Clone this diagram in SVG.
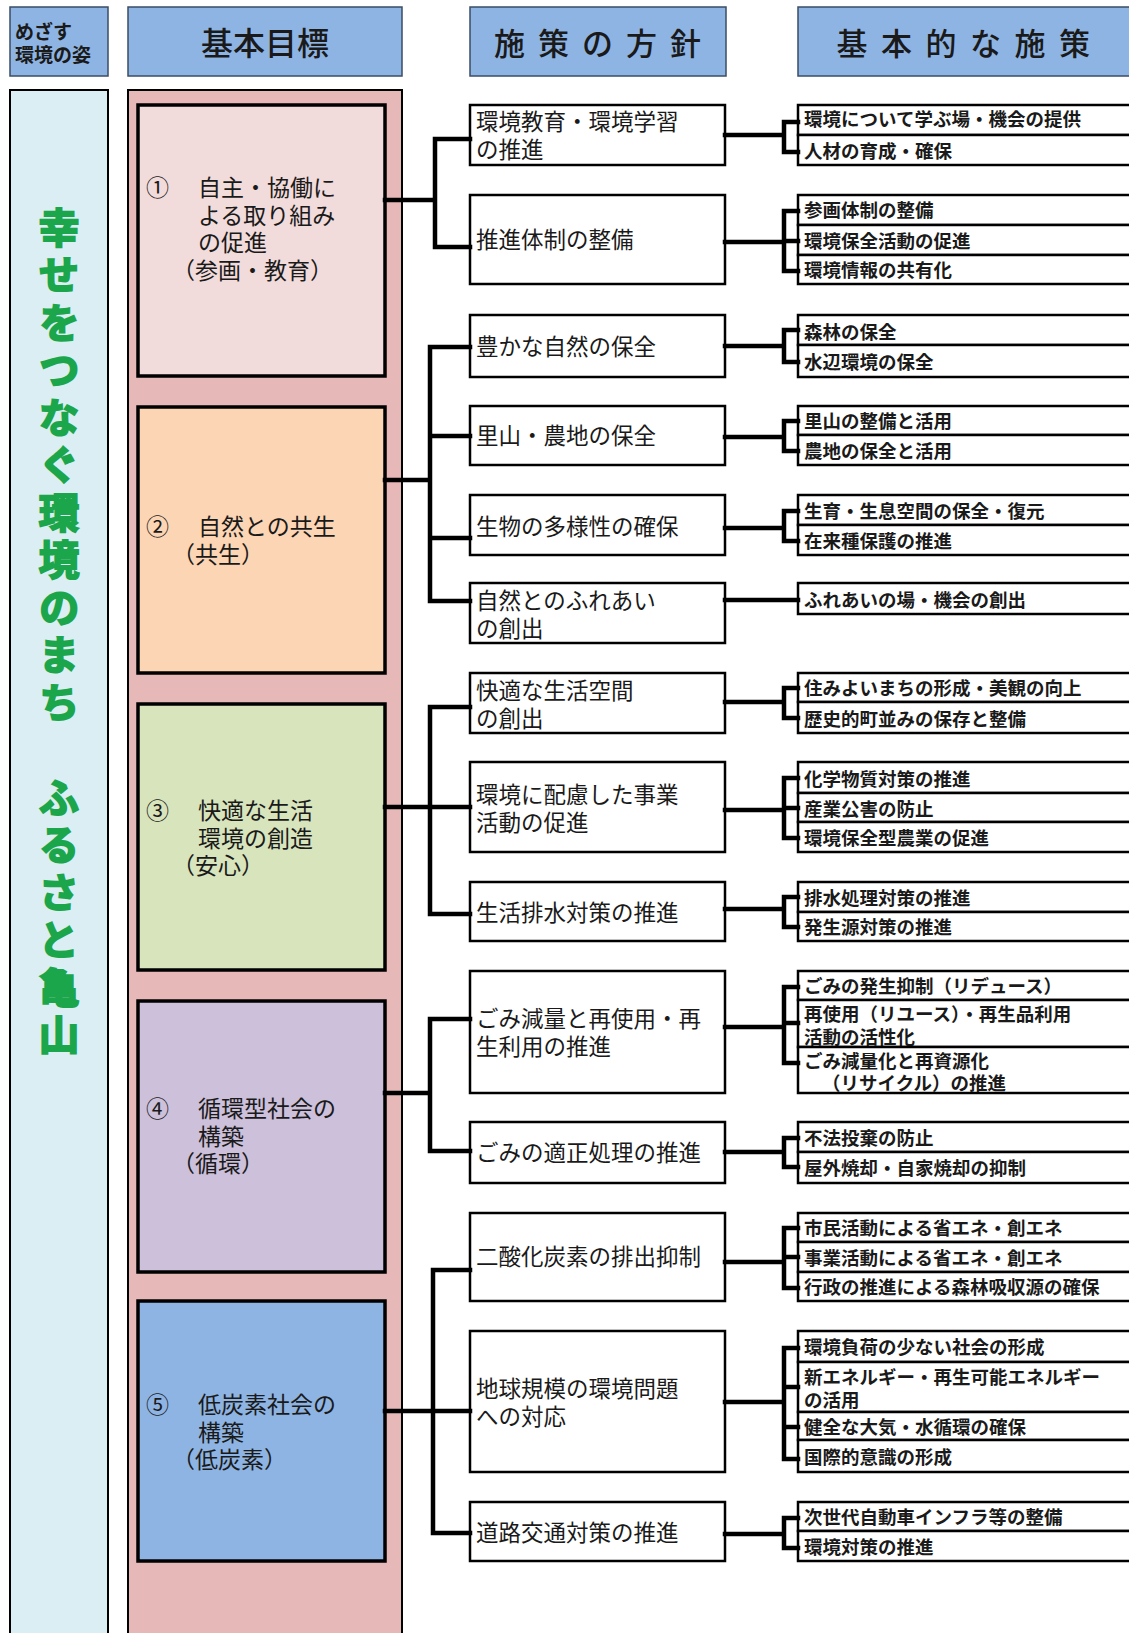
<svg xmlns="http://www.w3.org/2000/svg" width="1129" height="1633" viewBox="0 0 1129 1633">
<style>
text{font-family:"Noto Sans CJK JP","Noto Sans CJK SC",sans-serif;fill:#1a1a1a;dominant-baseline:central}
.hdr{fill:#8EB4E3;stroke:#3A4C66;stroke-width:1.5}
.ht{font-size:31px;text-anchor:middle;font-weight:500}
.goal{stroke:#000;stroke-width:3.5}
.gt{font-size:23px}
.pol{fill:#fff;stroke:#000;stroke-width:2.5}
.pt{font-size:22.5px}
.item{fill:#fff;stroke:#000;stroke-width:2.5}
.it{font-size:18.5px;font-weight:bold}
.title{font-size:41px;font-weight:bold;fill:#1CA64B;stroke:#1CA64B;stroke-width:1.8;writing-mode:vertical-rl;letter-spacing:6.5px}
.con{fill:none;stroke:#000;stroke-width:4.5;stroke-linecap:square;stroke-linejoin:miter}
</style>
<rect width="1129" height="1633" fill="#fff"/>

<g id="headers">
<g id="h-mezasu"><rect class="hdr" x="10" y="7" width="98" height="69"/><text style="font-size:19px;font-weight:bold"><tspan x="15" y="30">めざす</tspan><tspan x="15" y="53">環境の姿</tspan></text></g>
<g id="h-kihon"><rect class="hdr" x="128" y="7" width="274" height="69"/><text class="ht" x="265" y="41" style="font-size:32px">基本目標</text></g>
<g id="h-housin"><rect class="hdr" x="470" y="7" width="256" height="69"/><text class="ht" x="604" y="41" style="letter-spacing:13px">施策の方針</text></g>
<g id="h-sesaku"><rect class="hdr" x="798" y="7" width="340" height="69"/><text class="ht" x="970" y="41" style="letter-spacing:13.5px">基本的な施策</text></g>
</g>

<g id="vision">
<rect x="10" y="90" width="98" height="1560" fill="#DBEEF4" stroke="#000" stroke-width="2"/>
<text class="title" x="59" y="206.5">幸せをつなぐ環境のまち　ふるさと亀山</text>
</g>

<g id="goals">
<rect x="128" y="90" width="274" height="1560" fill="#E6B8B7" stroke="#000" stroke-width="2"/>
<g id="goal1"><rect class="goal" x="138" y="105" width="247" height="271" fill="#F2DCDB"/>
<text class="gt"><tspan x="146" y="186">①</tspan><tspan x="198" y="186">自主・協働に</tspan><tspan x="198" y="213.5">よる取り組み</tspan><tspan x="198" y="241">の促進</tspan><tspan x="172" y="268.5">（参画・教育）</tspan></text></g>
<g id="goal2"><rect class="goal" x="138" y="407" width="247" height="266" fill="#FCD5B4"/>
<text class="gt"><tspan x="146" y="525">②</tspan><tspan x="198" y="525">自然との共生</tspan><tspan x="172" y="553">（共生）</tspan></text></g>
<g id="goal3"><rect class="goal" x="138" y="704" width="247" height="266" fill="#D7E4BC"/>
<text class="gt"><tspan x="146" y="809">③</tspan><tspan x="198" y="809">快適な生活</tspan><tspan x="198" y="836.5">環境の創造</tspan><tspan x="172" y="864">（安心）</tspan></text></g>
<g id="goal4"><rect class="goal" x="138" y="1001" width="247" height="271" fill="#CCC0DA"/>
<text class="gt"><tspan x="146" y="1107">④</tspan><tspan x="198" y="1107">循環型社会の</tspan><tspan x="198" y="1134.5">構築</tspan><tspan x="172" y="1162">（循環）</tspan></text></g>
<g id="goal5"><rect class="goal" x="138" y="1301" width="247" height="260" fill="#8EB4E3"/>
<text class="gt"><tspan x="146" y="1403">⑤</tspan><tspan x="198" y="1403">低炭素社会の</tspan><tspan x="198" y="1430.5">構築</tspan><tspan x="172" y="1458">（低炭素）</tspan></text></g>
</g>

<g id="policies">
<g id="p1"><rect class="pol" x="470" y="105" width="255" height="60"/><text class="pt"><tspan x="476" y="120">環境教育・環境学習</tspan><tspan x="476" y="147.5">の推進</tspan></text></g>
<g id="p2"><rect class="pol" x="470" y="195" width="255" height="89"/><text class="pt" x="476" y="238">推進体制の整備</text></g>
<g id="p3"><rect class="pol" x="470" y="315" width="255" height="62"/><text class="pt" x="476" y="345">豊かな自然の保全</text></g>
<g id="p4"><rect class="pol" x="470" y="406" width="255" height="59"/><text class="pt" x="476" y="434">里山・農地の保全</text></g>
<g id="p5"><rect class="pol" x="470" y="495" width="255" height="60"/><text class="pt" x="476" y="525">生物の多様性の確保</text></g>
<g id="p6"><rect class="pol" x="470" y="583" width="255" height="60"/><text class="pt"><tspan x="476" y="599">自然とのふれあい</tspan><tspan x="476" y="626.5">の創出</tspan></text></g>
<g id="p7"><rect class="pol" x="470" y="673" width="255" height="60"/><text class="pt"><tspan x="476" y="689">快適な生活空間</tspan><tspan x="476" y="716.5">の創出</tspan></text></g>
<g id="p8"><rect class="pol" x="470" y="762" width="255" height="90"/><text class="pt"><tspan x="476" y="793">環境に配慮した事業</tspan><tspan x="476" y="820.5">活動の促進</tspan></text></g>
<g id="p9"><rect class="pol" x="470" y="882" width="255" height="59"/><text class="pt" x="476" y="911">生活排水対策の推進</text></g>
<g id="p10"><rect class="pol" x="470" y="971" width="255" height="122"/><text class="pt"><tspan x="476" y="1017">ごみ減量と再使用・再</tspan><tspan x="476" y="1044.5">生利用の推進</tspan></text></g>
<g id="p11"><rect class="pol" x="470" y="1122" width="255" height="61"/><text class="pt" x="476" y="1151">ごみの適正処理の推進</text></g>
<g id="p12"><rect class="pol" x="470" y="1213" width="255" height="88"/><text class="pt" x="476" y="1255">二酸化炭素の排出抑制</text></g>
<g id="p13"><rect class="pol" x="470" y="1331" width="255" height="141"/><text class="pt"><tspan x="476" y="1387">地球規模の環境問題</tspan><tspan x="476" y="1414.5">への対応</tspan></text></g>
<g id="p14"><rect class="pol" x="470" y="1502" width="255" height="59"/><text class="pt" x="476" y="1531">道路交通対策の推進</text></g>
</g>

<g id="measures">
<g id="m1"><rect class="item" x="798" y="105" width="340" height="30"/><text class="it" x="804" y="118">環境について学ぶ場・機会の提供</text><rect class="item" x="798" y="135" width="340" height="30"/><text class="it" x="804" y="150">人材の育成・確保</text></g>
<g id="m2"><rect class="item" x="798" y="195" width="340" height="30"/><text class="it" x="804" y="209">参画体制の整備</text><rect class="item" x="798" y="225" width="340" height="30"/><text class="it" x="804" y="240">環境保全活動の促進</text><rect class="item" x="798" y="255" width="340" height="29"/><text class="it" x="804" y="269">環境情報の共有化</text></g>
<g id="m3"><rect class="item" x="798" y="315" width="340" height="30"/><text class="it" x="804" y="331">森林の保全</text><rect class="item" x="798" y="345" width="340" height="32"/><text class="it" x="804" y="361">水辺環境の保全</text></g>
<g id="m4"><rect class="item" x="798" y="406" width="340" height="29"/><text class="it" x="804" y="420">里山の整備と活用</text><rect class="item" x="798" y="435" width="340" height="30"/><text class="it" x="804" y="450">農地の保全と活用</text></g>
<g id="m5"><rect class="item" x="798" y="495" width="340" height="30"/><text class="it" x="804" y="510">生育・生息空間の保全・復元</text><rect class="item" x="798" y="525" width="340" height="30"/><text class="it" x="804" y="540">在来種保護の推進</text></g>
<g id="m6"><rect class="item" x="798" y="583" width="340" height="31"/><text class="it" x="804" y="599">ふれあいの場・機会の創出</text></g>
<g id="m7"><rect class="item" x="798" y="673" width="340" height="29"/><text class="it" x="804" y="687">住みよいまちの形成・美観の向上</text><rect class="item" x="798" y="702" width="340" height="31"/><text class="it" x="804" y="718">歴史的町並みの保存と整備</text></g>
<g id="m8"><rect class="item" x="798" y="762" width="340" height="31"/><text class="it" x="804" y="778">化学物質対策の推進</text><rect class="item" x="798" y="793" width="340" height="29"/><text class="it" x="804" y="808">産業公害の防止</text><rect class="item" x="798" y="822" width="340" height="30"/><text class="it" x="804" y="837">環境保全型農業の促進</text></g>
<g id="m9"><rect class="item" x="798" y="882" width="340" height="30"/><text class="it" x="804" y="897">排水処理対策の推進</text><rect class="item" x="798" y="912" width="340" height="29"/><text class="it" x="804" y="926">発生源対策の推進</text></g>
<g id="m10"><rect class="item" x="798" y="971" width="340" height="29"/><text class="it" x="804" y="985">ごみの発生抑制（リデュース）</text><rect class="item" x="798" y="1000" width="340" height="47"/><text class="it"><tspan x="804" y="1013">再使用（リユース）・再生品利用</tspan><tspan x="804" y="1036">活動の活性化</tspan></text><rect class="item" x="798" y="1047" width="340" height="46"/><text class="it"><tspan x="804" y="1060">ごみ減量化と再資源化</tspan><tspan x="822" y="1082">（リサイクル）の推進</tspan></text></g>
<g id="m11"><rect class="item" x="798" y="1122" width="340" height="30"/><text class="it" x="804" y="1137">不法投棄の防止</text><rect class="item" x="798" y="1152" width="340" height="31"/><text class="it" x="804" y="1167">屋外焼却・自家焼却の抑制</text></g>
<g id="m12"><rect class="item" x="798" y="1213" width="340" height="29"/><text class="it" x="804" y="1227">市民活動による省エネ・創エネ</text><rect class="item" x="798" y="1242" width="340" height="30"/><text class="it" x="804" y="1257">事業活動による省エネ・創エネ</text><rect class="item" x="798" y="1272" width="340" height="29"/><text class="it" x="804" y="1286">行政の推進による森林吸収源の確保</text></g>
<g id="m13"><rect class="item" x="798" y="1331" width="340" height="31"/><text class="it" x="804" y="1346">環境負荷の少ない社会の形成</text><rect class="item" x="798" y="1362" width="340" height="50"/><text class="it"><tspan x="804" y="1376">新エネルギー・再生可能エネルギー</tspan><tspan x="804" y="1399">の活用</tspan></text><rect class="item" x="798" y="1412" width="340" height="28"/><text class="it" x="804" y="1426">健全な大気・水循環の確保</text><rect class="item" x="798" y="1440" width="340" height="32"/><text class="it" x="804" y="1456">国際的意識の形成</text></g>
<g id="m14"><rect class="item" x="798" y="1502" width="340" height="29"/><text class="it" x="804" y="1516">次世代自動車インフラ等の整備</text><rect class="item" x="798" y="1531" width="340" height="30"/><text class="it" x="804" y="1546">環境対策の推進</text></g>
</g>

<g id="connectors">
<path class="con" d="M385 200H435M435 139V247M435 139H470M435 247H470"/>
<path class="con" d="M385 480H430M430 347V601M430 347H470M430 436H470M430 538H470M430 601H470"/>
<path class="con" d="M385 807H470M430 707V914M430 707H470M430 914H470"/>
<path class="con" d="M385 1093H430M430 1019V1151M430 1019H470M430 1151H470"/>
<path class="con" d="M385 1411H470M433 1270V1533M433 1270H470M433 1533H470"/>
<path class="con" d="M725 135H784M784 122V152M784 122H798M784 152H798"/>
<path class="con" d="M725 242H784M784 211V271M784 211H798M784 241H798M784 271H798"/>
<path class="con" d="M725 346H784M784 330V362M784 330H798M784 362H798"/>
<path class="con" d="M725 437H784M784 421V451M784 421H798M784 451H798"/>
<path class="con" d="M725 528H784M784 511V541M784 511H798M784 541H798"/>
<path class="con" d="M725 600H798"/>
<path class="con" d="M725 702H784M784 688V718M784 688H798M784 718H798"/>
<path class="con" d="M725 810H784M784 778V838M784 778H798M784 808H798M784 838H798"/>
<path class="con" d="M725 909H784M784 897V927M784 897H798M784 927H798"/>
<path class="con" d="M725 1027H784M784 987V1063M784 987H798M784 1023H798M784 1063H798"/>
<path class="con" d="M725 1152H784M784 1138V1167M784 1138H798M784 1167H798"/>
<path class="con" d="M725 1262H784M784 1228V1288M784 1228H798M784 1257H798M784 1288H798"/>
<path class="con" d="M725 1402H784M784 1348V1459M784 1348H798M784 1387H798M784 1427H798M784 1459H798"/>
<path class="con" d="M725 1534H784M784 1518V1548M784 1518H798M784 1548H798"/>
</g>
</svg>
